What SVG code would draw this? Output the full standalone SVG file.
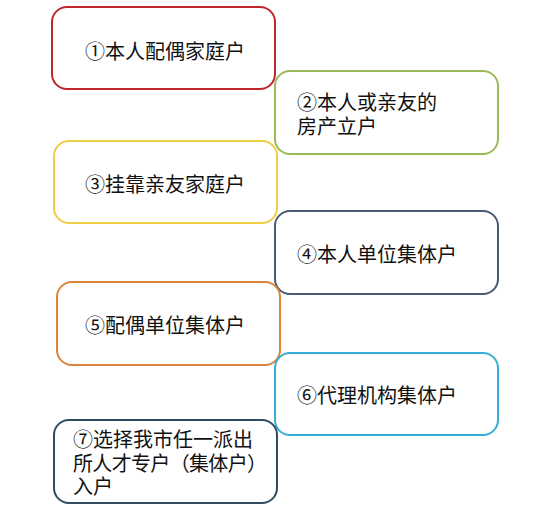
<svg xmlns="http://www.w3.org/2000/svg" width="546" height="506" viewBox="0 0 546 506">
<style>
.box{fill:#ffffff;stroke-width:2}
.t{font-family:"Noto Sans CJK SC","Microsoft YaHei",sans-serif;font-size:20px;fill:#111111}
</style>
<rect width="546" height="506" fill="#ffffff"/>
<g id="connectors"></g>
<g id="n1">
<rect class="box" x="52" y="7" width="223" height="82" rx="15" stroke="#C0272D"/>
<text class="t" x="85" y="59">①本人配偶家庭户</text>
</g>
<g id="n2">
<rect class="box" x="275" y="71" width="223" height="83" rx="15" stroke="#9BBB59"/>
<text class="t" x="297" y="110">②本人或亲友的</text>
<text class="t" x="297" y="134">房产立户</text>
</g>
<g id="n3">
<rect class="box" x="54" y="141" width="223" height="82" rx="15" stroke="#F0CD45"/>
<text class="t" x="85" y="192">③挂靠亲友家庭户</text>
</g>
<g id="n4">
<rect class="box" x="275" y="211" width="223" height="83" rx="15" stroke="#4A5A70"/>
<text class="t" x="297" y="262">④本人单位集体户</text>
</g>
<g id="n5">
<rect class="box" x="57" y="282" width="223" height="83" rx="15" stroke="#D9863A"/>
<text class="t" x="85" y="333">⑤配偶单位集体户</text>
</g>
<g id="n6">
<rect class="box" x="275" y="353" width="223" height="82" rx="15" stroke="#35AED4"/>
<text class="t" x="297" y="403">⑥代理机构集体户</text>
</g>
<g id="n7">
<rect class="box" x="54" y="420" width="223" height="83" rx="15" stroke="#304D60"/>
<text class="t" x="73" y="447">⑦选择我市任一派出</text>
<text class="t" x="73" y="471" textLength="194" lengthAdjust="spacing">所人才专户（集体户）</text>
<text class="t" x="73" y="494">入户</text>
</g>
</svg>
